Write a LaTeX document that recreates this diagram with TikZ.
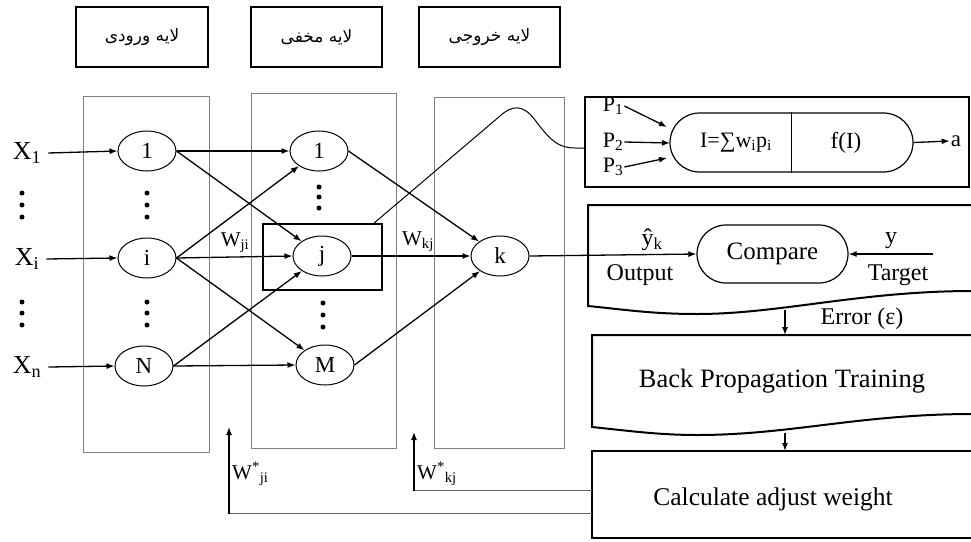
\documentclass[tikz,border=0pt]{standalone}
\usepackage{fontspec}
\setmainfont{Liberation Serif}
\newfontfamily\arabicfont[Script=Arabic]{DejaVu Sans}
\TeXXeTstate=1
\usetikzlibrary{arrows.meta,shapes.geometric,shapes.misc}
\tikzset{
  neuron/.style={ellipse,draw,line width=1pt,minimum width=58pt,minimum height=40pt,inner sep=0pt,font=\fontsize{23}{26}\selectfont},
  layerbox/.style={draw=black!50,line width=1pt},
  titlebox/.style={draw,line width=1.4pt,minimum height=60pt,inner sep=0pt,font=\fontsize{17}{20}\selectfont\arabicfont},
  conn/.style={line width=1.3pt,-{Latex[length=8pt,width=6pt]}},
  feedline/.style={draw=black!60,line width=1pt},
  flowbox/.style={line width=2pt},
  txt/.style={inner sep=1pt,font=\fontsize{24}{28}\selectfont},
  dot/.style={circle,fill=black,inner sep=0pt,minimum size=5pt}
}
\begin{document}
\begin{tikzpicture}[x=1pt,y=-1pt]
\useasboundingbox (0,0) rectangle (971,541);
% title boxes
\node[titlebox,minimum width=132pt] (t1) at (142,37) {\beginR لایه ورودی\endR};
\node[titlebox,minimum width=131pt] (t2) at (316.5,37) {\beginR لایه مخفی\endR};
\node[titlebox,minimum width=141pt] (t3) at (489.5,37) {\beginR لایه خروجی\endR};
% layer boxes
\draw[layerbox] (83,96) rectangle (209,452);
\draw[layerbox] (251,93) rectangle (396,448);
\draw[layerbox] (434,97) rectangle (564,448);
% input labels
\node[txt,font=\fontsize{26}{28}\selectfont] (x1) at (27,153) {X\textsubscript{1}};
\node[txt,font=\fontsize{26}{28}\selectfont] (xi) at (27,259) {X\textsubscript{i}};
\node[txt,font=\fontsize{26}{28}\selectfont] (xn) at (27,367) {X\textsubscript{n}};
\foreach \y in {193,205,217,302,313,325} \node[dot] at (22,\y) {};
% input neurons
\node[neuron] (i1) at (147,151) {1};
\node[neuron] (ii) at (147,258) {i};
\node[neuron] (iN) at (144,366) {N};
\foreach \y in {193,205,217,302,313,325} \node[dot] at (147,\y) {};
% hidden neurons
\node[neuron] (h1) at (319,151) {1};
\node[neuron] (hj) at (322,256) {j};
\node[neuron] (hM) at (325,365) {M};
\foreach \y in {187,197,208} \node[dot] at (319,\y) {};
\foreach \y in {303,315,327} \node[dot] at (323,\y) {};
% output neuron
\node[neuron] (k) at (500,256) {k};
% highlight box
\node[draw,line width=2.5pt,minimum width=119pt,minimum height=66pt,inner sep=0pt] (jbox) at (322.5,257) {};
% input arrows
\draw[conn] (x1.east) ++(6,0) coordinate (x1s) -- (i1.west);
\draw[conn] (xi.east) ++(6,0) coordinate (xis) -- (ii.west);
\draw[conn] (xn.east) ++(6,0) coordinate (xns) -- (iN.west);
% input to hidden
\draw[conn] (i1.east) -- (h1.west);
\draw[conn] (i1.east) -- (hj);
\draw[conn] (ii.east) -- (h1);
\draw[conn] (ii.east) -- (hj.west);
\draw[conn] (ii.east) -- (hM);
\draw[conn] (iN.east) -- (hj);
\draw[conn] (iN.east) -- (hM.west);
% hidden to output
\draw[conn] (h1.east) -- (k);
\draw[conn] (hj.east) -- (k.west);
\draw[conn] (hM.east) -- (k);
\node[txt,font=\fontsize{21}{24}\selectfont] (wji) at (235,243) {W\textsubscript{ji}};
\node[txt,font=\fontsize{21}{24}\selectfont] (wkj) at (418,242) {W\textsubscript{kj}};
% neuron model box
\node[draw,flowbox,minimum width=384pt,minimum height=90pt,inner sep=0pt] (tp) at (777,142) {};
\coordinate (tpin) at (586,148);
\coordinate (cs) at (373,224);
\draw[line width=1pt] (cs) -- (500,116) .. controls (512,105) and (523,104) .. (535,120) .. controls (550,140) and (558,148) .. (575,148) -- (tpin);
\node[rounded rectangle,draw,line width=1.2pt,minimum width=243pt,minimum height=59pt,inner sep=0pt] (rr) at (791.5,142.5) {};
\draw[line width=1.2pt] (rr.north) -- (rr.south);
\node[txt,font=\fontsize{22}{26}\selectfont] (sum) at (736,143) {I=∑w\textsubscript{i}p\textsubscript{i}};
\node[txt,font=\fontsize{23}{26}\selectfont] (fI) at (846,143) {f(I)};
\node[txt,font=\fontsize{22}{24}\selectfont] (p1) at (613,106) {P\textsubscript{1}};
\node[txt,font=\fontsize{22}{24}\selectfont] (p2) at (613,142) {P\textsubscript{2}};
\node[txt,font=\fontsize{22}{24}\selectfont] (p3) at (613,167) {P\textsubscript{3}};
\coordinate (r1) at (667,127);
\coordinate (r2) at (670,143);
\coordinate (r3) at (667,158);
\draw[conn] (p1.east) -- (r1);
\draw[conn] (p2.east) -- (r2);
\draw[conn] (p3.east) -- (r3);
\node[txt,font=\fontsize{23}{26}\selectfont] (a) at (956,141) {a};
\draw[conn] (rr.east) -- (a.west);
% compare box
\draw[flowbox] (973,205) -- (588,205) -- (588,306) .. controls (620,309) and (650,314) .. (697,314) .. controls (780,314) and (860,291) .. (973,291);
\node[rounded rectangle,draw,line width=1.2pt,minimum width=151pt,minimum height=58pt,inner sep=0pt,font=\fontsize{25}{28}\selectfont] (cmp) at (772.5,254) {Compare};
\draw[conn] (k.east) -- (cmp.west);
\node[txt] (yk) at (652,240) {ŷ\textsubscript{k}};
\node[txt] (outp) at (640,275) {Output};
\coordinate (tgs) at (933,254);
\draw[conn] (tgs) -- (cmp.east);
\node[txt] (y) at (891,241) {y};
\node[txt] (tgt) at (898,275) {Target};
% back propagation box
\draw[flowbox] (973,335) -- (592,335) -- (592,427) .. controls (630,431) and (660,435) .. (697,435) .. controls (790,435) and (860,414) .. (973,414);
\node[txt,font=\fontsize{26.5}{28}\selectfont] (bp) at (782,381) {Back Propagation Training};
\coordinate (e1) at (785,310);
\coordinate (e2) at (785,335);
\draw[conn] (e1) -- (e2);
\node[txt] (err) at (862,319) {Error (ε)};
\coordinate (b1) at (785,433);
\coordinate (b2) at (785,451);
\draw[conn] (b1) -- (b2);
% calculate box
\draw[flowbox] (973,451) -- (592,451) -- (592,538) -- (973,538);
\node[txt,font=\fontsize{25.5}{28}\selectfont] (calc) at (773,499) {Calculate adjust weight};
% feedback
\coordinate (f1) at (592,490);
\coordinate (f1t) at (414,432);
\draw[feedline] (f1) -- (414,490);
\draw[conn] (414,490.5) -- (f1t);
\coordinate (f2) at (592,513);
\coordinate (f2t) at (229,427);
\draw[feedline] (f2) -- (229,513);
\draw[conn] (229,513.5) -- (f2t);
\node[txt,font=\fontsize{21}{24}\selectfont,anchor=west] (wsk) at (416,474) {W\textsuperscript{*}\textsubscript{kj}};
\node[txt,font=\fontsize{21}{24}\selectfont,anchor=west] (wsj) at (231,474) {W\textsuperscript{*}\textsubscript{ji}};
\end{tikzpicture}
\end{document}
